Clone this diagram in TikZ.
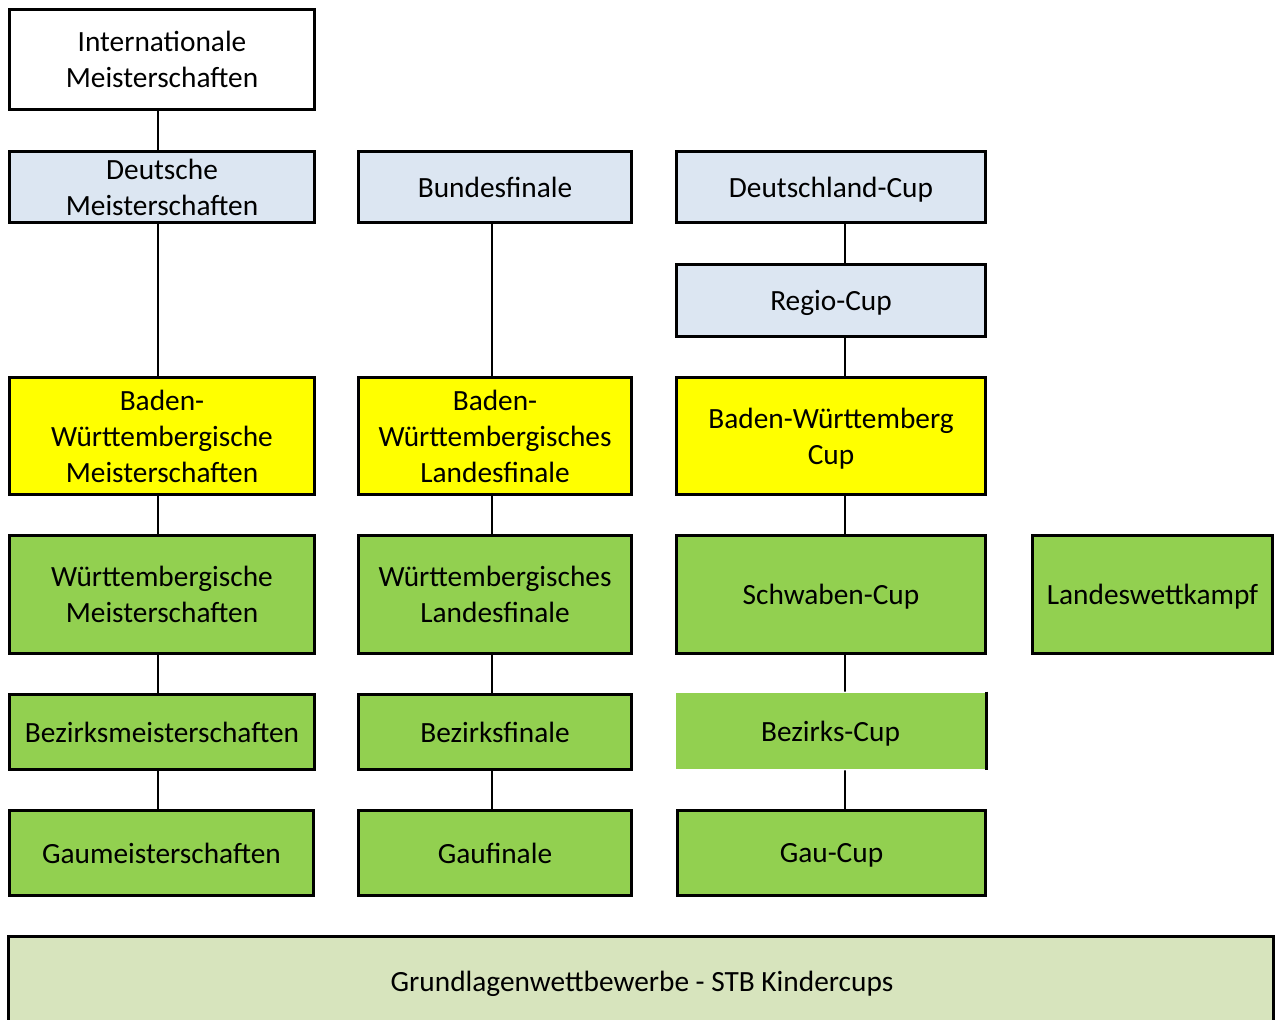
\documentclass[tikz,border=0pt]{standalone}
\usepackage{fontspec}
\setmainfont{Carlito}
\usepackage{tikz}
\usepackage{xcolor}

\definecolor{dsblue}{HTML}{DCE6F2}
\definecolor{bwyellow}{HTML}{FFFF00}
\definecolor{wgreen}{HTML}{92D050}
\definecolor{kgreen}{HTML}{D7E4BD}

\tikzset{
  box/.style={draw=black, line width=1.6pt, align=center, inner sep=0pt,
    text depth=0pt, font=\fontsize{16.7}{20.5}\selectfont},
  link/.style={draw=black, line width=1.1pt},
}

\begin{document}
\begin{tikzpicture}[x=0.02cm, y=-0.02cm]
				\useasboundingbox (0,0) rectangle (1275,1020);
				% national level
				\node[box, fill=white, minimum width=6.1cm, minimum height=2cm] (intl) at (162,59.5) {Internationale\\Meisterschaften};
				\node[box, fill=dsblue, minimum width=6.1cm, minimum height=1.42cm] (dm) at (162,187) {Deutsche\\Meisterschaften};
				\node[box, fill=dsblue, minimum width=5.46cm, minimum height=1.42cm] (bf) at (495,187) {Bundesfinale};
				\node[box, fill=dsblue, minimum width=6.18cm, minimum height=1.42cm] (dcup) at (831,187) {Deutschland-Cup};
				\node[box, fill=dsblue, minimum width=6.18cm, minimum height=1.44cm] (rcup) at (831,300.5) {Regio-Cup};
				% Baden-Wuerttemberg
				\node[box, fill=bwyellow, minimum width=6.1cm, minimum height=2.34cm] (bwm) at (162,436) {Baden-\\Württembergische\\Meisterschaften};
				\node[box, fill=bwyellow, minimum width=5.46cm, minimum height=2.34cm] (bwl) at (495,436) {Baden-\\Württembergisches\\Landesfinale};
				\node[box, fill=bwyellow, minimum width=6.18cm, minimum height=2.34cm] (bwc) at (831,436) {Baden-Württemberg\\Cu\smash{p}};
				% Wuerttemberg
				\node[box, fill=wgreen, minimum width=6.1cm, minimum height=2.36cm] (wm) at (162,594.5) {Württembergische\\Meisterschaften};
				\node[box, fill=wgreen, minimum width=5.46cm, minimum height=2.36cm] (wl) at (495,594.5) {Württembergisches\\Landesfinale};
				\node[box, fill=wgreen, minimum width=6.18cm, minimum height=2.36cm] (scup) at (831,594.5) {Schwaben-Cup};
				\node[box, fill=wgreen, minimum width=4.8cm, minimum height=2.36cm] (lwk) at (1152.5,594.5) {Landeswettkampf};
				% Bezirke
				\node[box, fill=wgreen, minimum width=6.1cm, minimum height=1.5cm] (bzm) at (162,732) {Bezirksmeisterschaften};
				\node[box, fill=wgreen, minimum width=5.46cm, minimum height=1.5cm] (bzf) at (495,732) {Bezirksfinale};
				\node[box, draw=none, fill=wgreen, minimum width=6.18cm, minimum height=1.52cm] (bzc) at (830.5,731) {Bezirks-Cup};
				\draw[link, line width=1.6pt] (bzc.north east) -- (bzc.south east);
				% Gaue
				\node[box, fill=wgreen, minimum width=6.08cm, minimum height=1.7cm] (gm) at (161.5,853) {Gaumeisterschaften};
				\node[box, fill=wgreen, minimum width=5.46cm, minimum height=1.7cm] (gf) at (495,853) {Gaufinale};
				\node[box, fill=wgreen, minimum width=6.16cm, minimum height=1.7cm] (gcup) at (831.5,853) {Gau-Cup};
				% Grundlagen
				\node[box, fill=kgreen, minimum width=25.3cm, minimum height=2cm] (kc) at (641,986.5) {};
				\node[font=\fontsize{16.7}{20.5}\selectfont, text depth=0pt, inner sep=0pt] (kctext) at (642,981) {Grundlagenwettbewerbe - STB Kindercups};
				% column 1
				\draw[link] ([xshift=-0.08cm]intl.south) -- ([xshift=-0.08cm]dm.north);
				\draw[link] ([xshift=-0.08cm]dm.south) -- ([xshift=-0.08cm]bwm.north);
				\draw[link] ([xshift=-0.08cm]bwm.south) -- ([xshift=-0.08cm]wm.north);
				\draw[link] ([xshift=-0.08cm]wm.south) -- ([xshift=-0.08cm]bzm.north);
				\draw[link] ([xshift=-0.08cm]bzm.south) -- ([xshift=-0.07cm]gm.north);
				% column 2
				\draw[link] ([xshift=-0.06cm]bf.south) -- ([xshift=-0.06cm]bwl.north);
				\draw[link] ([xshift=-0.06cm]bwl.south) -- ([xshift=-0.06cm]wl.north);
				\draw[link] ([xshift=-0.06cm]wl.south) -- ([xshift=-0.06cm]bzf.north);
				\draw[link] ([xshift=-0.06cm]bzf.south) -- ([xshift=-0.06cm]gf.north);
				% column 3
				\draw[link] ([xshift=0.28cm]dcup.south) -- ([xshift=0.28cm]rcup.north);
				\draw[link] ([xshift=0.28cm]rcup.south) -- ([xshift=0.28cm]bwc.north);
				\draw[link] ([xshift=0.28cm]bwc.south) -- ([xshift=0.28cm]scup.north);
				\draw[link] ([xshift=0.28cm]scup.south) -- ([xshift=0.29cm]bzc.north);
				\draw[link] ([xshift=0.29cm]bzc.south) -- ([xshift=0.27cm]gcup.north);
			\end{tikzpicture}
\end{document}
